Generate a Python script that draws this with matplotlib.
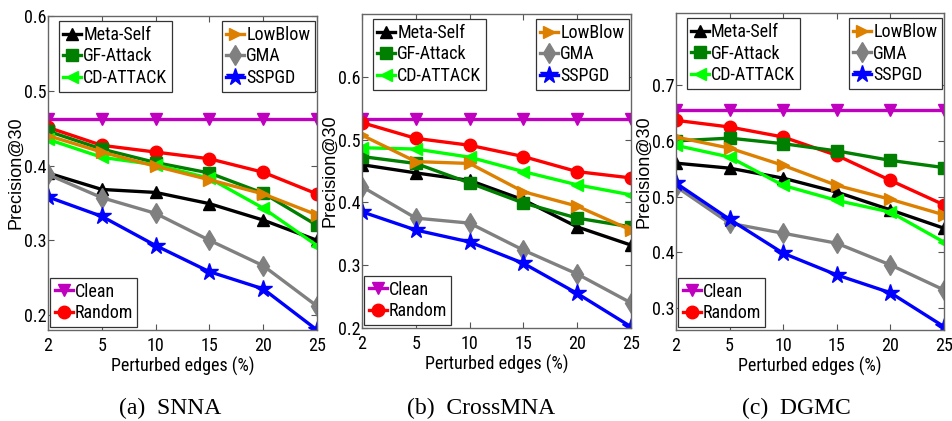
import matplotlib
matplotlib.use("Agg")
import matplotlib.pyplot as plt
from matplotlib import font_manager

x_labels = ["2", "5", "10", "15", "20", "25"]
x_pos = list(range(len(x_labels)))

methods = ["Clean", "Random", "Meta-Self", "GF-Attack", "CD-ATTACK", "LowBlow", "GMA", "SSPGD"]

snna = {
    "Clean":     [0.462, 0.462, 0.462, 0.462, 0.462, 0.462],
    "Random":    [0.451, 0.427, 0.418, 0.409, 0.391, 0.362],
    "Meta-Self": [0.390, 0.368, 0.364, 0.349, 0.327, 0.300],
    "GF-Attack": [0.446, 0.422, 0.404, 0.390, 0.363, 0.320],
    "CD-ATTACK": [0.435, 0.411, 0.401, 0.383, 0.343, 0.293],
    "LowBlow":   [0.440, 0.418, 0.399, 0.381, 0.362, 0.334],
    "GMA":       [0.388, 0.357, 0.336, 0.300, 0.266, 0.212],
    "SSPGD":     [0.358, 0.332, 0.293, 0.258, 0.235, 0.180],
}
crossmna = {
    "Clean":     [0.533, 0.533, 0.533, 0.533, 0.533, 0.533],
    "Random":    [0.527, 0.502, 0.491, 0.473, 0.449, 0.439],
    "Meta-Self": [0.460, 0.447, 0.435, 0.404, 0.361, 0.332],
    "GF-Attack": [0.473, 0.462, 0.431, 0.399, 0.375, 0.361],
    "CD-ATTACK": [0.487, 0.485, 0.472, 0.449, 0.428, 0.412],
    "LowBlow":   [0.507, 0.465, 0.462, 0.417, 0.394, 0.356],
    "GMA":       [0.425, 0.375, 0.367, 0.324, 0.286, 0.240],
    "SSPGD":     [0.385, 0.356, 0.337, 0.303, 0.255, 0.202],
}
dgmc = {
    "Clean":     [0.655, 0.655, 0.655, 0.655, 0.655, 0.655],
    "Random":    [0.637, 0.625, 0.607, 0.574, 0.529, 0.485],
    "Meta-Self": [0.560, 0.551, 0.533, 0.508, 0.476, 0.443],
    "GF-Attack": [0.600, 0.605, 0.595, 0.582, 0.565, 0.552],
    "CD-ATTACK": [0.592, 0.571, 0.520, 0.493, 0.472, 0.418],
    "LowBlow":   [0.607, 0.587, 0.556, 0.520, 0.495, 0.467],
    "GMA":       [0.518, 0.452, 0.434, 0.416, 0.377, 0.332],
    "SSPGD":     [0.524, 0.459, 0.398, 0.359, 0.327, 0.266],
}

panels = [("(a)  SNNA", snna, (0.18, 0.6), [0.2, 0.3, 0.4, 0.5, 0.6]),
          ("(b)  CrossMNA", crossmna, (0.2, 0.7), [0.2, 0.3, 0.4, 0.5, 0.6]),
          ("(c)  DGMC", dgmc, (0.26, 0.83), [0.3, 0.4, 0.5, 0.6, 0.7])]

styles = {
    "Clean":     dict(color="#BF00BF", marker="v", ms=9),
    "Random":    dict(color="#FF0000", marker="o", ms=9),
    "Meta-Self": dict(color="#000000", marker="^", ms=9),
    "GF-Attack": dict(color="#007F00", marker="s", ms=8),
    "CD-ATTACK": dict(color="#00FF00", marker="<", ms=9),
    "LowBlow":   dict(color="#DD8000", marker=">", ms=9),
    "GMA":       dict(color="#808080", marker="d", ms=10),
    "SSPGD":     dict(color="#0000FF", marker="*", ms=13),
}

# choose a condensed sans font if one is installed
entries = font_manager.fontManager.ttflist
names = {f.name for f in entries}
narrow_family = None
narrow_stretch = "normal"
narrow_size = 11
for cand in ["Liberation Sans Narrow", "Arial Narrow", "Roboto Condensed",
             "Open Sans Condensed", "Noto Sans Condensed"]:
    if cand in names:
        narrow_family = cand
        narrow_size = 13
        break
if narrow_family is None:
    for f in entries:
        st = f.stretch
        if (isinstance(st, str) and "condensed" in st) or (isinstance(st, int) and st < 500):
            if "Sans" in f.name and "Mono" not in f.name:
                narrow_family = f.name
                narrow_stretch = "condensed"
                narrow_size = 12.5
                break
if narrow_family is None:
    narrow_family = "Liberation Sans"
    narrow_size = 11

plt.rcParams["font.family"] = [narrow_family, "Liberation Sans", "DejaVu Sans"]
plt.rcParams["font.stretch"] = narrow_stretch

fig = plt.figure(figsize=(9.52, 4.21), dpi=100)
lefts = [48 / 952, 362 / 952, 676 / 952]
widths = [269 / 952, 269 / 952, 268 / 952]
tops = [16, 14, 13]
bottoms = [330, 328, 330]
caption_x = [170 / 952, 481 / 952, 796 / 952]

for i, (cap, data, ylim, yticks) in enumerate(panels):
    b = 1 - bottoms[i] / 421
    h = (bottoms[i] - tops[i]) / 421
    ax = fig.add_axes([lefts[i], b, widths[i], h])
    handles = {}
    for m in methods:
        st = styles[m]
        ln, = ax.plot(x_pos, data[m], color=st["color"], marker=st["marker"],
                      markersize=st["ms"], linewidth=2.4, label=m,
                      markeredgecolor=st["color"], markerfacecolor=st["color"])
        handles[m] = ln
    ax.set_xlim(0, 5)
    ax.set_ylim(*ylim)
    ax.set_xticks(x_pos)
    ax.set_xticklabels(x_labels)
    ax.set_yticks(yticks)
    ax.set_yticklabels([f"{v:.1f}" for v in yticks])
    ax.tick_params(direction="in", top=True, right=True, length=4,
                   labelsize=narrow_size, width=0.8, color="#555555")
    ax.tick_params(axis="x", pad=5)
    ax.tick_params(axis="y", pad=0.8)
    for sp in ax.spines.values():
        sp.set_color("#666666")
        sp.set_linewidth(1.0)
    ax.set_xlabel("Perturbed edges (%)", fontsize=narrow_size, labelpad=1)
    ax.set_ylabel("Precision@30", fontsize=13, labelpad=0,
                  family=["Liberation Sans", "DejaVu Sans"], stretch="normal")

    legkw = dict(prop=dict(size=narrow_size), frameon=True, fancybox=False,
                 borderaxespad=0, handlelength=1.0, handletextpad=0.1,
                 labelspacing=0.2, borderpad=0.25)
    l1 = ax.legend([handles[m] for m in ["Meta-Self", "GF-Attack", "CD-ATTACK"]],
                   ["Meta-Self", "GF-Attack", "CD-ATTACK"], loc="upper left",
                   bbox_to_anchor=(0.04, 0.983), **legkw)
    l2 = ax.legend([handles[m] for m in ["LowBlow", "GMA", "SSPGD"]],
                   ["LowBlow", "GMA", "SSPGD"], loc="upper right",
                   bbox_to_anchor=(0.992, 0.983), **legkw)
    l3 = ax.legend([handles[m] for m in ["Clean", "Random"]],
                   ["Clean", "Random"], loc="lower left",
                   bbox_to_anchor=(0.008, 0.01), **legkw)
    for lg in (l1, l2, l3):
        lg.get_frame().set_edgecolor("#333333")
        lg.get_frame().set_linewidth(0.9)
        lg.get_frame().set_alpha(1)
    ax.add_artist(l1)
    ax.add_artist(l2)

    fig.text(caption_x[i], 1 - 408 / 421, cap, ha="center", va="center",
             fontsize=17, family=["Liberation Serif", "DejaVu Serif"],
             stretch="normal")

fig.savefig("out.png", dpi=100)
